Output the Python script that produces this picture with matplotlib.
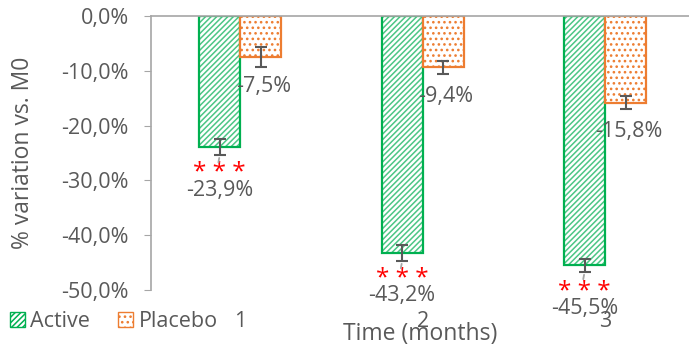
import matplotlib.pyplot as plt
from matplotlib.patches import Patch
import numpy as np

plt.rcParams["font.family"] = ["Open Sans", "DejaVu Sans"]
plt.rcParams["hatch.linewidth"] = 1.1

months = ["1", "2", "3"]
active = [-23.9, -43.2, -45.5]
active_err = [1.5, 1.5, 1.2]
placebo = [-7.5, -9.4, -15.8]
placebo_err = [1.9, 1.2, 1.2]
signif = ["***", "***", "***"]

green = "#00B050"
light_green = "#4CC685"
orange = "#ED7D31"
grey = "#595959"
axis_grey = "#A6A6A6"

fig = plt.figure(figsize=(6.89, 3.45), dpi=100)
ax = fig.add_axes([0.219, 0.159, 0.781, 0.795])

x = np.arange(len(months))
w = 0.225

# hatched fill first, then a plain outline on top
ax.bar(x - w / 2, active, w, facecolor="white", edgecolor=light_green,
       hatch="//////", linewidth=0, zorder=2)
ax.bar(x - w / 2, active, w, facecolor="none", edgecolor=green, linewidth=1.6,
       zorder=2)
ax.bar(x + w / 2, placebo, w, facecolor="white", edgecolor=orange, hatch="...",
       linewidth=0, zorder=2)
ax.bar(x + w / 2, placebo, w, facecolor="none", edgecolor=orange, linewidth=1.6,
       zorder=2)

ax.errorbar(x - w / 2, active, yerr=active_err, fmt="none", ecolor=grey,
            elinewidth=1.5, capsize=4, capthick=1.5, zorder=3)
ax.errorbar(x + w / 2, placebo, yerr=placebo_err, fmt="none", ecolor=grey,
            elinewidth=1.5, capsize=4, capthick=1.5, zorder=3)

# value labels, active ones with significance stars and a short leader line
for xi, v, e, s in zip(x, active, active_err, signif):
    ax.annotate(" ".join(s), (xi - w / 2, v), xytext=(0, -19),
                textcoords="offset points", ha="center", va="center",
                color="red", fontsize=17.5, annotation_clip=False)
    ax.annotate(f"{v:.1f}%".replace(".", ","), (xi - w / 2, v), xytext=(0, -31),
                textcoords="offset points", ha="center", va="center",
                color=grey, fontsize=15.5, annotation_clip=False)
    ax.annotate("", (xi - w / 2, v - e), xytext=(xi - w / 2 - 0.01, v - e - 1.8),
                arrowprops=dict(arrowstyle="-", color=axis_grey, lw=1.3),
                annotation_clip=False)
for xi, v in zip(x, placebo):
    ax.annotate(f"{v:.1f}%".replace(".", ","), (xi + w / 2, v), xytext=(2, -21),
                textcoords="offset points", ha="center", va="center",
                color=grey, fontsize=15.5, annotation_clip=False)

ax.set_xlim(-0.49, 2.46)
ax.set_ylim(-50, 0)
ax.set_yticks(np.arange(-50, 1, 10))
ax.set_yticklabels([f"{t:.1f}%".replace(".", ",") for t in np.arange(-50, 1, 10)])
ax.set_xticks(x)
ax.set_xticklabels(months)
ax.tick_params(axis="x", length=0, pad=15, labelsize=15.5, labelcolor=grey)
ax.tick_params(axis="y", length=5, color=axis_grey, labelsize=15.5,
               labelcolor=grey, pad=11)

for side in ["right", "bottom"]:
    ax.spines[side].set_visible(False)
for side in ["left", "top"]:
    ax.spines[side].set_color(axis_grey)
    ax.spines[side].set_linewidth(1.2)

ax.set_ylabel("% variation vs. M0", fontsize=16.5, color=grey, labelpad=19)
ax.set_xlabel("Time (months)", fontsize=16.5, color=grey, labelpad=-7)

handles = [Patch(facecolor="white", edgecolor=green, hatch="//////", label="Active"),
           Patch(facecolor="white", edgecolor=orange, hatch="...", label="Placebo")]
fig.legend(handles=handles, loc="center left", bbox_to_anchor=(0.014, 0.067),
           ncol=2, frameon=False, fontsize=15.5, handlelength=0.7,
           handleheight=0.7, handletextpad=0.25, columnspacing=1.3,
           borderaxespad=0, borderpad=0, labelcolor=grey)

fig.savefig("out.png", dpi=100)
